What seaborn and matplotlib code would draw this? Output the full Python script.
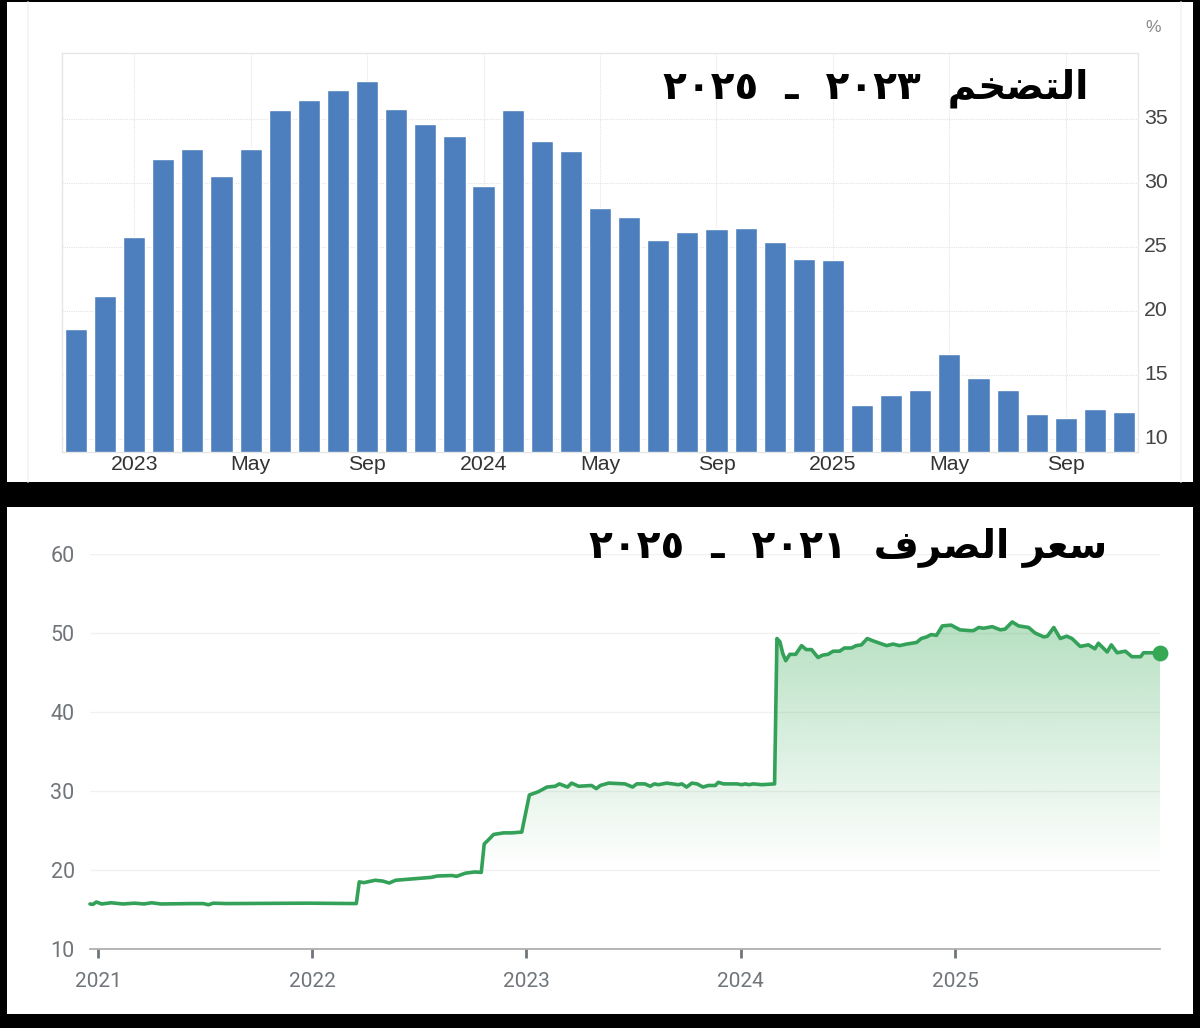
import matplotlib
matplotlib.use("Agg")
import matplotlib.pyplot as plt
import matplotlib.dates as mdates
from matplotlib.lines import Line2D
from matplotlib.patches import Rectangle
from matplotlib.transforms import ScaledTranslation
import numpy as np
import pandas as pd
import seaborn as sns

# ---------- data ----------
INFLATION_LABELS = ["Nov 2022", "Dec 2022", "2023", "Feb", "Mar", "Apr", "May", "Jun", "Jul", "Aug", "Sep", "Oct",
                    "Nov", "Dec", "2024", "Feb ", "Mar ", "Apr ", "May ", "Jun ", "Jul ", "Aug ", "Sep ", "Oct ",
                    "Nov ", "Dec ", "2025", "Feb  ", "Mar  ", "Apr  ", "May  ", "Jun  ", "Jul  ", "Aug  ", "Sep  ",
                    "Oct  ", "Nov  "]
INFLATION_VALUES = [18.6, 21.2, 25.8, 31.9, 32.7, 30.6, 32.7, 35.7, 36.5, 37.3, 38.0, 35.8,
                    34.6, 33.7, 29.8, 35.7, 33.3, 32.5, 28.1, 27.4, 25.6, 26.2, 26.4, 26.5,
                    25.4, 24.1, 24.0, 12.7, 13.5, 13.85, 16.7, 14.8, 13.85, 11.95, 11.65, 12.4, 12.15]
INFLATION_TICK_LABELS = ["2023", "May", "Sep", "2024", "May", "Sep", "2025", "May", "Sep"]
INFLATION_TICK_KEYS = ["2023", "May", "Sep", "2024", "May ", "Sep ", "2025", "May  ", "Sep  "]
INFLATION_Y_TICKS = [10, 15, 20, 25, 30, 35]

FX_DATES = [
    "2020-12-18", "2020-12-23", "2020-12-29", "2021-01-07", "2021-01-23", "2021-02-12", "2021-03-04", "2021-03-20",
    "2021-04-02", "2021-04-18", "2021-06-10", "2021-06-29", "2021-07-08", "2021-07-16", "2021-08-08", "2021-10-19",
    "2021-12-23", "2022-03-17", "2022-03-22", "2022-03-30", "2022-04-18", "2022-05-01", "2022-05-12", "2022-05-23",
    "2022-07-23", "2022-08-02", "2022-08-27", "2022-09-04", "2022-09-19", "2022-10-05", "2022-10-16",
    "2022-10-21", "2022-10-28", "2022-11-06", "2022-11-23", "2022-12-07", "2022-12-24",
    "2023-01-06", "2023-01-21", "2023-02-05", "2023-02-19", "2023-02-26", "2023-03-12", "2023-03-19", "2023-03-31",
    "2023-04-22", "2023-04-30", "2023-05-07", "2023-05-21", "2023-06-18", "2023-07-01", "2023-07-08", "2023-07-22",
    "2023-07-31", "2023-08-07", "2023-08-14", "2023-08-28", "2023-09-17", "2023-09-23", "2023-10-01", "2023-10-10",
    "2023-10-19", "2023-10-29", "2023-11-07", "2023-11-19", "2023-11-24", "2023-12-03", "2023-12-26",
    "2024-01-03", "2024-01-09", "2024-01-15", "2024-01-23", "2024-02-06", "2024-02-28",
    "2024-03-03", "2024-03-08", "2024-03-13", "2024-03-18", "2024-03-25", "2024-04-04", "2024-04-14", "2024-04-22",
    "2024-05-01", "2024-05-12", "2024-05-20", "2024-05-29", "2024-06-07", "2024-06-18", "2024-06-26", "2024-07-08",
    "2024-07-16", "2024-07-25", "2024-08-04", "2024-08-14", "2024-09-06", "2024-09-17", "2024-09-28", "2024-10-10",
    "2024-10-27", "2024-11-04", "2024-11-13", "2024-11-21", "2024-11-30", "2024-12-10", "2024-12-25",
    "2025-01-09", "2025-01-26", "2025-02-01", "2025-02-10", "2025-02-18", "2025-03-05", "2025-03-19", "2025-03-27",
    "2025-04-08", "2025-04-19", "2025-05-06", "2025-05-17", "2025-06-01", "2025-06-07", "2025-06-18", "2025-06-29",
    "2025-07-10", "2025-07-19", "2025-08-02", "2025-08-16", "2025-08-27", "2025-09-02", "2025-09-17", "2025-09-24",
    "2025-10-04", "2025-10-18", "2025-10-29", "2025-11-13", "2025-11-18", "2025-12-16",
]
FX_VALUES = [
    15.7, 15.65, 15.95, 15.7, 15.85, 15.7, 15.8, 15.7,
    15.85, 15.7, 15.75, 15.75, 15.6, 15.8, 15.75, 15.78,
    15.8, 15.75, 18.5, 18.4, 18.7, 18.6, 18.35, 18.7,
    19.07, 19.24, 19.3, 19.2, 19.6, 19.75, 19.7,
    23.3, 23.8, 24.5, 24.7, 24.7, 24.8,
    29.5, 29.9, 30.5, 30.6, 30.9, 30.5, 31.0, 30.6,
    30.7, 30.3, 30.7, 31.0, 30.9, 30.5, 30.9, 30.9,
    30.6, 30.9, 30.8, 31.0, 30.8, 30.9, 30.5, 31.0,
    30.9, 30.5, 30.7, 30.7, 31.1, 30.9, 30.9,
    30.8, 30.9, 30.8, 30.9, 30.8, 30.9,
    49.3, 48.9, 47.4, 46.5, 47.3, 47.3, 48.4, 47.9,
    47.9, 46.9, 47.2, 47.3, 47.7, 47.7, 48.1, 48.1,
    48.4, 48.5, 49.3, 49.0, 48.4, 48.6, 48.4, 48.6,
    48.8, 49.3, 49.5, 49.8, 49.7, 50.9, 51.0,
    50.4, 50.3, 50.3, 50.7, 50.6, 50.8, 50.4, 50.5,
    51.4, 50.9, 50.7, 50.0, 49.5, 49.6, 50.7, 49.3,
    49.6, 49.3, 48.3, 48.5, 48.0, 48.7, 47.6, 48.5,
    47.5, 47.7, 47.0, 47.0, 47.5, 47.5,
]
FX_Y_TICKS = [10, 20, 30, 40, 50, 60]
FX_X_TICKS = ["2021-01-01", "2022-01-01", "2023-01-01", "2024-01-01", "2025-01-01"]

TITLE_TOP = ("التضخم", "٢٠٢٣", "ـ", "٢٠٢٥")
TITLE_BOTTOM = ("سعر الصرف", "٢٠٢١", "ـ", "٢٠٢٥")

# ---------- Arabic shaping (matplotlib does not shape or reorder) ----------
FORMS = {  # isolated, final, initial, medial
    "ا": "\uFE8D\uFE8E\uFE8D\uFE8E", "ر": "\uFEAD\uFEAE\uFEAD\uFEAE",
    "ت": "\uFE95\uFE96\uFE97\uFE98", "ض": "\uFEBD\uFEBE\uFEBF\uFEC0",
    "خ": "\uFEA5\uFEA6\uFEA7\uFEA8", "م": "\uFEE1\uFEE2\uFEE3\uFEE4",
    "ل": "\uFEDD\uFEDE\uFEDF\uFEE0", "س": "\uFEB1\uFEB2\uFEB3\uFEB4",
    "ع": "\uFEC9\uFECA\uFECB\uFECC", "ص": "\uFEB9\uFEBA\uFEBB\uFEBC",
    "ف": "\uFED1\uFED2\uFED3\uFED4",
}
NON_JOINING_LEFT = set("ار")


def shape_word(word):
    out = []
    for i, ch in enumerate(word):
        joins_prev = i > 0 and word[i - 1] not in NON_JOINING_LEFT
        joins_next = i < len(word) - 1 and ch not in NON_JOINING_LEFT
        out.append(FORMS[ch][{(False, False): 0, (True, False): 1, (False, True): 2, (True, True): 3}[(joins_prev, joins_next)]])
    return "".join(reversed(out))


def visual_title(parts):
    words, year_a, dash, year_b = parts
    shaped = " ".join(shape_word(w) for w in reversed(words.split(" ")))
    return f"{year_b}  {dash}  {year_a}  {shaped}"


# ---------- figure ----------
sns.set_theme(style="white")
W, H = 1200, 1028
fig = plt.figure(figsize=(W / 100, H / 100), dpi=100, facecolor="black")


def box(x0, y0, x1, y1):
    return [x0 / W, 1 - y1 / H, (x1 - x0) / W, (y1 - y0) / H]


for x0, y0, x1, y1 in [(7, 2, 1193, 482), (7, 507, 1193, 1014)]:
    fig.add_artist(Rectangle((x0 / W, 1 - y1 / H), (x1 - x0) / W, (y1 - y0) / H, transform=fig.transFigure,
                             facecolor="white", edgecolor="none", zorder=-2))
for x in (28, 1181):
    fig.add_artist(Line2D([x / W, x / W], [1 - 482 / H, 1 - 2 / H], color="#f3f3f3", lw=1.2, zorder=-1))

# ---------- top chart ----------
ax1 = fig.add_axes(box(62, 53, 1138, 452), facecolor="white")
ax1.set_axisbelow(True)
infl = pd.DataFrame({"month": INFLATION_LABELS, "value": INFLATION_VALUES})
sns.barplot(data=infl, x="month", y="value", color="#4d7fbe", saturation=1, width=0.76, ax=ax1)
ax1.set_xlim(-0.48, 36.48)
ax1.set_ylim(9.02, 40.17)
ax1.set_xlabel("")
ax1.set_ylabel("")
ax1.set_xticks([INFLATION_LABELS.index(k) for k in INFLATION_TICK_KEYS])
ax1.set_xticklabels(INFLATION_TICK_LABELS, family="Liberation Sans", fontsize=15.3, color="#333333")
ax1.yaxis.tick_right()
ax1.set_yticks(INFLATION_Y_TICKS)
ax1.set_yticklabels([str(v) for v in INFLATION_Y_TICKS], family="Liberation Sans", fontsize=15.3, color="#444444")
ax1.tick_params(axis="x", length=0, pad=2.5)
ax1.tick_params(axis="y", length=0, pad=4.3)
ax1.grid(True, color="#e4e4e4", lw=0.8, ls=(0, (1, 1)))
for lab in ax1.get_yticklabels():
    lab.set_transform(lab.get_transform() + ScaledTranslation(0, 3 / 100, fig.dpi_scale_trans))
for name, sp in ax1.spines.items():
    sp.set_visible(True)
    sp.set_color("#e6e6e6")
    sp.set_linewidth(1.0)
ax1.spines["top"].set_linestyle((0, (1, 1)))
fig.text(1153 / W, 1 - 27 / H, "%", family="Liberation Sans", fontsize=12.5, color="#888888", ha="center", va="center")
fig.text(1088 / W, 1 - 98 / H, visual_title(TITLE_TOP), family="DejaVu Sans", weight="bold", fontsize=28,
         color="black", ha="right", va="baseline", zorder=5)

# ---------- bottom chart ----------
ax2 = fig.add_axes(box(90, 554, 1160, 949), facecolor="none")
fx = pd.DataFrame({"date": pd.to_datetime(FX_DATES), "value": FX_VALUES})
ax2.set_xlim(pd.Timestamp("2020-12-18"), pd.Timestamp("2025-12-16"))
ax2.set_ylim(10, 60)
x0, x1 = ax2.get_xlim()

# vertical gradient, clipped to the area under the line
levels = np.linspace(60, 10, 300)
alpha = np.clip((levels - 20) / 30, 0, None) * 0.34
rgba = np.zeros((300, 1, 4))
rgba[..., :3] = matplotlib.colors.to_rgb("#34a853")
rgba[..., 3] = alpha[:, None]
poly = ax2.fill_between(fx["date"], fx["value"], 10, color="none", lw=0)
img = ax2.imshow(rgba, extent=[x0, x1, 10, 60], aspect="auto", origin="upper", zorder=1, interpolation="bilinear")
img.set_clip_path(poly.get_paths()[0], transform=ax2.transData)
ax2.set_xlim(x0, x1)
ax2.set_ylim(10, 60)

sns.lineplot(data=fx, x="date", y="value", color="#34a159", lw=2.6, ax=ax2, zorder=3, errorbar=None, clip_on=False,
             solid_joinstyle="round")
sns.scatterplot(data=fx.tail(1), x="date", y="value", color="#34a853", s=130, linewidth=0, ax=ax2, zorder=4, clip_on=False)
ax2.set_xlabel("")
ax2.set_ylabel("")
ax2.set_yticks(FX_Y_TICKS)
ax2.set_yticklabels([str(v) for v in FX_Y_TICKS], family="Roboto", fontsize=15.5, color="#70757a")
ax2.set_xticks(pd.to_datetime(FX_X_TICKS))
ax2.xaxis.set_major_formatter(mdates.DateFormatter("%Y"))
for lab in ax2.get_xticklabels():
    lab.set_family("Roboto")
    lab.set_fontsize(15)
    lab.set_color("#70757a")
ax2.tick_params(axis="x", bottom=True, length=6.5, width=2, color="#70757a", pad=10)
ax2.tick_params(axis="y", length=0, pad=11)
ax2.grid(False)
ax2.yaxis.grid(True, color="#f1f1f1", lw=1.0)
ax2.set_axisbelow(True)
for name, sp in ax2.spines.items():
    sp.set_visible(name == "bottom")
ax2.spines["bottom"].set_color("#a8a8a8")
ax2.spines["bottom"].set_linewidth(1.2)
fig.text(1107 / W, 1 - 557 / H, visual_title(TITLE_BOTTOM), family="DejaVu Sans", weight="bold", fontsize=28,
         color="black", ha="right", va="baseline", zorder=5)

fig.savefig("out.png", dpi=100, facecolor=fig.get_facecolor())
